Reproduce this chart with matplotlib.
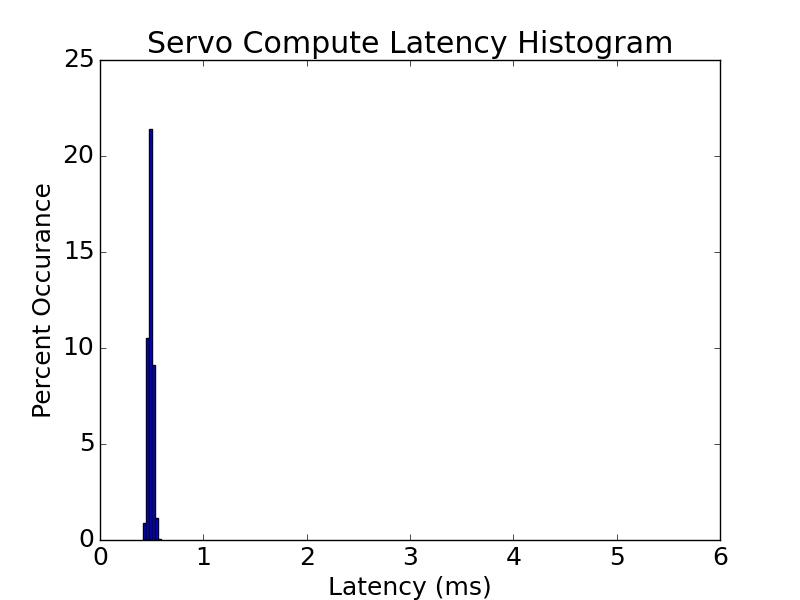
import matplotlib
matplotlib.use("Agg")
import matplotlib.pyplot as plt
import numpy as np

plt.style.use('classic')

bin_edges = [0.416, 0.445, 0.474, 0.503, 0.532, 0.561, 0.590]
percent = [0.9, 10.5, 21.4, 9.1, 1.15, 0.05]

fig = plt.figure(figsize=(8, 6), dpi=100)
ax = fig.add_subplot(111)
ax.hist(bin_edges[:-1], bins=bin_edges, weights=percent, color='b', edgecolor='black')
ax.set_xlim(0, 6)
ax.set_ylim(0, 25)
ax.set_title('Servo Compute Latency Histogram', fontsize=21.6)
ax.set_xlabel('Latency (ms)', fontsize=18)
ax.set_ylabel('Percent Occurance', fontsize=18)
ax.tick_params(labelsize=18)
fig.savefig('out.png', dpi=100)
